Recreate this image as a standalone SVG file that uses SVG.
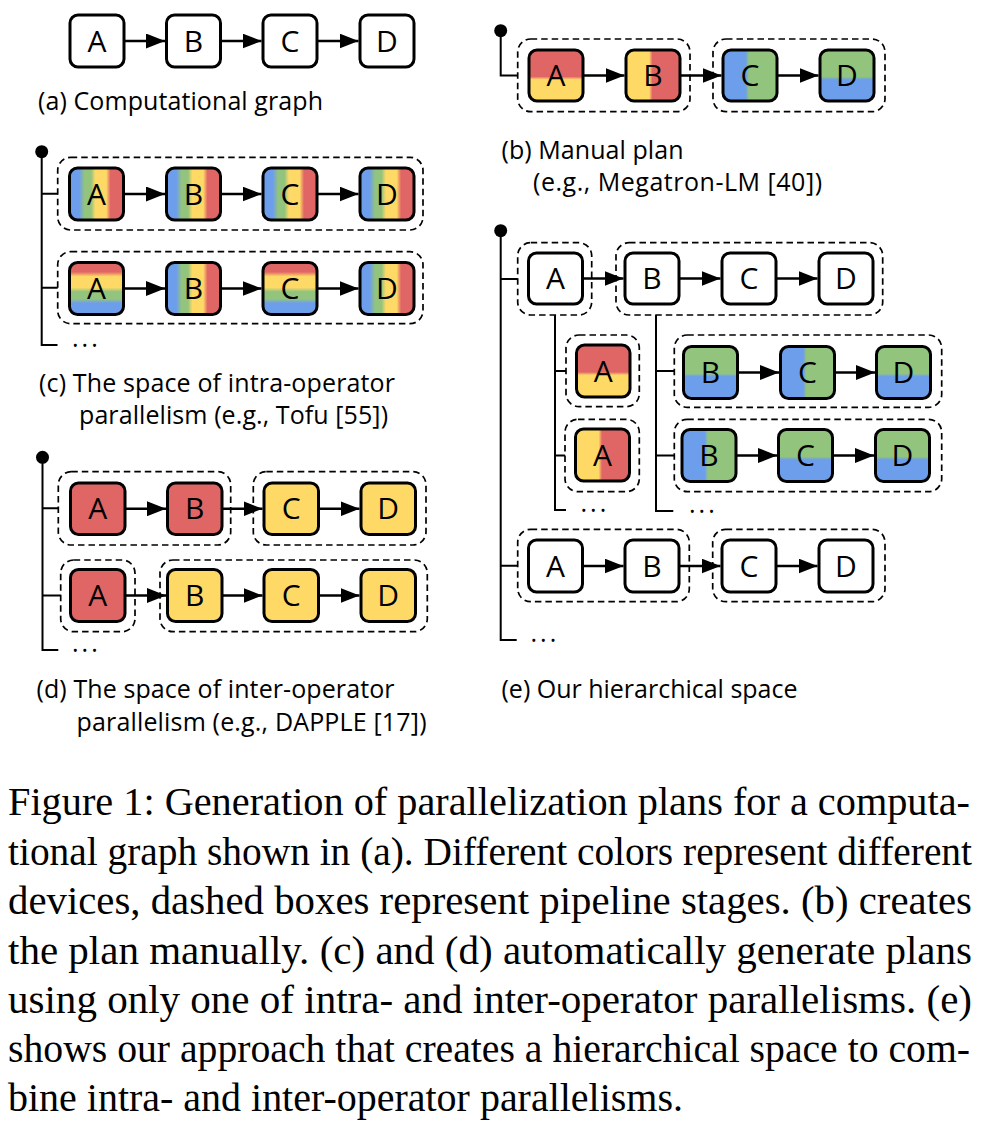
<svg xmlns="http://www.w3.org/2000/svg" width="993" height="1124" viewBox="0 0 993 1124">
<style>
.n{stroke:#000;stroke-width:3}
.w{fill:#fff}
.r{fill:#e06666}
.y{fill:#ffd966}
.d{fill:none;stroke:#000;stroke-width:1.7;stroke-dasharray:6.5 4}
.t{font-family:"Open Sans",sans-serif;font-size:30px;text-anchor:middle;fill:#000}
.cap{font-family:"Open Sans",sans-serif;font-size:25px;fill:#000}
.dots{font-family:"Open Sans",sans-serif;font-size:25px;letter-spacing:3px;fill:#000}
.fig{font-family:"Liberation Serif","Times New Roman",serif;font-size:40px;fill:#000}
.tree{fill:none;stroke:#000;stroke-width:2}
.arr{stroke:#000;stroke-width:2.5;fill:none;marker-end:url(#ah)}
</style>
<defs>
<marker id="ah" markerUnits="userSpaceOnUse" markerWidth="21" markerHeight="15" refX="19" refY="7.5" orient="auto">
<path d="M0,0 L19,7.5 L0,15 z" fill="#000"/>
</marker>
<linearGradient id="vs" x1="0" y1="0" x2="1" y2="0">
<stop offset="0.18" stop-color="#6d9eeb"/><stop offset="0.28" stop-color="#93c47d"/><stop offset="0.40" stop-color="#93c47d"/><stop offset="0.48" stop-color="#ffd966"/><stop offset="0.68" stop-color="#ffd966"/><stop offset="0.76" stop-color="#e06666"/>
</linearGradient>
<linearGradient id="hb" x1="0" y1="0" x2="0" y2="1">
<stop offset="0.18" stop-color="#e06666"/><stop offset="0.27" stop-color="#ffd966"/><stop offset="0.48" stop-color="#ffd966"/><stop offset="0.56" stop-color="#93c47d"/><stop offset="0.70" stop-color="#93c47d"/><stop offset="0.78" stop-color="#6d9eeb"/>
</linearGradient>
<linearGradient id="ry_v" x1="0" y1="0" x2="0" y2="1">
<stop offset="0.52" stop-color="#e06666"/><stop offset="0.58" stop-color="#ffd966"/>
</linearGradient>
<linearGradient id="yr_h" x1="0" y1="0" x2="1" y2="0">
<stop offset="0.43" stop-color="#ffd966"/><stop offset="0.49" stop-color="#e06666"/>
</linearGradient>
<linearGradient id="bg_h" x1="0" y1="0" x2="1" y2="0">
<stop offset="0.42" stop-color="#6d9eeb"/><stop offset="0.48" stop-color="#93c47d"/>
</linearGradient>
<linearGradient id="gb_v" x1="0" y1="0" x2="0" y2="1">
<stop offset="0.52" stop-color="#93c47d"/><stop offset="0.58" stop-color="#6d9eeb"/>
</linearGradient>
</defs>

<!-- stage boxes (dashed) -->
<g id="stages">
<rect class="d" x="517.7" y="39" width="172.3" height="72.7" rx="13"/>
<rect class="d" x="713" y="39" width="172" height="72.7" rx="13"/>
<rect class="d" x="57.7" y="157.3" width="365.3" height="72.7" rx="13"/>
<rect class="d" x="57.7" y="251.7" width="365.3" height="72" rx="13"/>
<rect class="d" x="58.3" y="471.7" width="172.4" height="73.3" rx="13"/>
<rect class="d" x="253.3" y="471.7" width="172.7" height="73.3" rx="13"/>
<rect class="d" x="60.7" y="560" width="74.3" height="71.7" rx="13"/>
<rect class="d" x="160" y="560" width="267.3" height="71.7" rx="13"/>
<rect class="d" x="517.7" y="242.7" width="74" height="72.3" rx="13"/>
<rect class="d" x="616" y="242.7" width="266.7" height="72.3" rx="13"/>
<rect class="d" x="566" y="335" width="73.3" height="71.7" rx="13"/>
<rect class="d" x="565" y="419.3" width="74.3" height="72.4" rx="13"/>
<rect class="d" x="674.3" y="335" width="267.4" height="72.3" rx="13"/>
<rect class="d" x="674.3" y="419.3" width="267.4" height="72.4" rx="13"/>
<rect class="d" x="517.7" y="529.3" width="171.6" height="72.4" rx="13"/>
<rect class="d" x="712.7" y="529.3" width="172.3" height="72.4" rx="13"/>
</g>

<!-- connectors -->
<g id="connectors">
<circle cx="500.7" cy="30.7" r="6.5" fill="#000"/>
<path class="tree" d="M500.7 30.7 V75.5 H517.7"/>
<circle cx="41.7" cy="151.7" r="6.5" fill="#000"/>
<path class="tree" d="M41.7 151.7 V345 H57.5 M41.7 193.7 H57.7 M41.7 287.7 H57.7"/>
<circle cx="42.5" cy="457.3" r="6.5" fill="#000"/>
<path class="tree" d="M42.5 457.3 V650 H58.3 M42.5 508.3 H58.3 M42.5 595.5 H60.7"/>
<circle cx="500.7" cy="230.7" r="6.5" fill="#000"/>
<path class="tree" d="M500.7 230.7 V640 H516.7 M500.7 279 H517.7 M500.7 565.7 H517.7"/>
<path class="tree" d="M555 315 V510 H566 M555 371 H566 M555 455.5 H565"/>
<path class="tree" d="M656 315 V511 H673.3 M656 371 H674.3 M656 455.5 H674.3"/>
<!-- (a) -->
<line class="arr" x1="124" y1="41" x2="165" y2="41"/>
<line class="arr" x1="220.5" y1="41" x2="261.5" y2="41"/>
<line class="arr" x1="317" y1="41" x2="358.5" y2="41"/>
<!-- (b) -->
<line class="arr" x1="583" y1="75.5" x2="624.5" y2="75.5"/>
<line class="arr" x1="680" y1="75.5" x2="721.5" y2="75.5"/>
<line class="arr" x1="777" y1="75.5" x2="818.5" y2="75.5"/>
<!-- (c) -->
<line class="arr" x1="123.5" y1="194" x2="165" y2="194"/>
<line class="arr" x1="220.5" y1="194" x2="261.5" y2="194"/>
<line class="arr" x1="317" y1="194" x2="358.5" y2="194"/>
<line class="arr" x1="123.5" y1="288.5" x2="165" y2="288.5"/>
<line class="arr" x1="220.5" y1="288.5" x2="261.5" y2="288.5"/>
<line class="arr" x1="317" y1="288.5" x2="358.5" y2="288.5"/>
<!-- (d) -->
<line class="arr" x1="125" y1="508.75" x2="166" y2="508.75"/>
<line class="arr" x1="222" y1="508.75" x2="262.5" y2="508.75"/>
<line class="arr" x1="318.5" y1="508.75" x2="359.5" y2="508.75"/>
<line class="arr" x1="125" y1="595.5" x2="166" y2="595.5"/>
<line class="arr" x1="222" y1="595.5" x2="262.5" y2="595.5"/>
<line class="arr" x1="318.5" y1="595.5" x2="359.5" y2="595.5"/>
<!-- (e) -->
<line class="arr" x1="582.5" y1="278.5" x2="623.5" y2="278.5"/>
<line class="arr" x1="679" y1="278.5" x2="720.5" y2="278.5"/>
<line class="arr" x1="776" y1="278.5" x2="817.5" y2="278.5"/>
<line class="arr" x1="737.5" y1="372.5" x2="779" y2="372.5"/>
<line class="arr" x1="834.5" y1="372.5" x2="875" y2="372.5"/>
<line class="arr" x1="736" y1="455.5" x2="777" y2="455.5"/>
<line class="arr" x1="832.5" y1="455.5" x2="874" y2="455.5"/>
<line class="arr" x1="582.5" y1="566" x2="623.5" y2="566"/>
<line class="arr" x1="679" y1="566" x2="720.5" y2="566"/>
<line class="arr" x1="776" y1="566" x2="817.5" y2="566"/>
</g>

<!-- (a) nodes -->
<g id="a-A"><rect class="n w" x="70" y="15" width="54" height="52" rx="8"/><text class="t" x="97" y="51.5">A</text></g>
<g id="a-B"><rect class="n w" x="166.5" y="15" width="54" height="52" rx="8"/><text class="t" x="193.5" y="51.5">B</text></g>
<g id="a-C"><rect class="n w" x="263" y="15" width="54" height="52" rx="8"/><text class="t" x="290" y="51.5">C</text></g>
<g id="a-D"><rect class="n w" x="360" y="15" width="54" height="52" rx="8"/><text class="t" x="387" y="51.5">D</text></g>

<!-- (b) nodes -->
<g id="b-A"><rect class="n" fill="url(#ry_v)" x="529" y="50" width="54" height="51" rx="8"/><text class="t" x="556" y="86">A</text></g>
<g id="b-B"><rect class="n" fill="url(#yr_h)" x="626" y="50" width="54" height="51" rx="8"/><text class="t" x="653" y="86">B</text></g>
<g id="b-C"><rect class="n" fill="url(#bg_h)" x="723" y="50" width="54" height="51" rx="8"/><text class="t" x="750" y="86">C</text></g>
<g id="b-D"><rect class="n" fill="url(#gb_v)" x="820" y="50" width="54" height="51" rx="8"/><text class="t" x="847" y="86">D</text></g>

<!-- (c) nodes -->
<g id="c1-A"><rect class="n" fill="url(#vs)" x="69.5" y="168" width="54" height="52" rx="8"/><text class="t" x="96.5" y="204.5">A</text></g>
<g id="c1-B"><rect class="n" fill="url(#vs)" x="166.5" y="168" width="54" height="52" rx="8"/><text class="t" x="193.5" y="204.5">B</text></g>
<g id="c1-C"><rect class="n" fill="url(#vs)" x="263" y="168" width="54" height="52" rx="8"/><text class="t" x="290" y="204.5">C</text></g>
<g id="c1-D"><rect class="n" fill="url(#vs)" x="360" y="168" width="54" height="52" rx="8"/><text class="t" x="387" y="204.5">D</text></g>
<g id="c2-A"><rect class="n" fill="url(#hb)" x="69.5" y="262.5" width="54" height="52" rx="8"/><text class="t" x="96.5" y="299">A</text></g>
<g id="c2-B"><rect class="n" fill="url(#vs)" x="166.5" y="262.5" width="54" height="52" rx="8"/><text class="t" x="193.5" y="299">B</text></g>
<g id="c2-C"><rect class="n" fill="url(#hb)" x="263" y="262.5" width="54" height="52" rx="8"/><text class="t" x="290" y="299">C</text></g>
<g id="c2-D"><rect class="n" fill="url(#vs)" x="360" y="262.5" width="54" height="52" rx="8"/><text class="t" x="387" y="299">D</text></g>

<!-- (d) nodes -->
<g id="d1-A"><rect class="n r" x="70.5" y="483" width="54.5" height="51.5" rx="8"/><text class="t" x="97.75" y="519">A</text></g>
<g id="d1-B"><rect class="n r" x="167.5" y="483" width="54.5" height="51.5" rx="8"/><text class="t" x="194.75" y="519">B</text></g>
<g id="d1-C"><rect class="n y" x="264" y="483" width="54.5" height="51.5" rx="8"/><text class="t" x="291.25" y="519">C</text></g>
<g id="d1-D"><rect class="n y" x="361" y="483" width="54.5" height="51.5" rx="8"/><text class="t" x="388.25" y="519">D</text></g>
<g id="d2-A"><rect class="n r" x="70.5" y="569.5" width="54.5" height="52" rx="8"/><text class="t" x="97.75" y="606">A</text></g>
<g id="d2-B"><rect class="n y" x="167.5" y="569.5" width="54.5" height="52" rx="8"/><text class="t" x="194.75" y="606">B</text></g>
<g id="d2-C"><rect class="n y" x="264" y="569.5" width="54.5" height="52" rx="8"/><text class="t" x="291.25" y="606">C</text></g>
<g id="d2-D"><rect class="n y" x="361" y="569.5" width="54.5" height="52" rx="8"/><text class="t" x="388.25" y="606">D</text></g>

<!-- (e) nodes -->
<g id="e1-A"><rect class="n w" x="528.5" y="253" width="54" height="51" rx="8"/><text class="t" x="555.5" y="289">A</text></g>
<g id="e1-B"><rect class="n w" x="625" y="253" width="54" height="51" rx="8"/><text class="t" x="652" y="289">B</text></g>
<g id="e1-C"><rect class="n w" x="722" y="253" width="54" height="51" rx="8"/><text class="t" x="749" y="289">C</text></g>
<g id="e1-D"><rect class="n w" x="819" y="253" width="54" height="51" rx="8"/><text class="t" x="846" y="289">D</text></g>
<g id="eA1"><rect class="n" fill="url(#ry_v)" x="576.5" y="345" width="53.5" height="52" rx="8"/><text class="t" x="603.25" y="381.5">A</text></g>
<g id="eA2"><rect class="n" fill="url(#yr_h)" x="575.5" y="429" width="54" height="52" rx="8"/><text class="t" x="602.5" y="465.5">A</text></g>
<g id="eB1-B"><rect class="n" fill="url(#gb_v)" x="683.5" y="346.5" width="54" height="52" rx="8"/><text class="t" x="710.5" y="383">B</text></g>
<g id="eB1-C"><rect class="n" fill="url(#bg_h)" x="780.5" y="346.5" width="54" height="52" rx="8"/><text class="t" x="807.5" y="383">C</text></g>
<g id="eB1-D"><rect class="n" fill="url(#gb_v)" x="876.5" y="346.5" width="54" height="52" rx="8"/><text class="t" x="903.5" y="383">D</text></g>
<g id="eB2-B"><rect class="n" fill="url(#bg_h)" x="682" y="429.5" width="54" height="52" rx="8"/><text class="t" x="709" y="466">B</text></g>
<g id="eB2-C"><rect class="n" fill="url(#gb_v)" x="778.5" y="429.5" width="54" height="52" rx="8"/><text class="t" x="805.5" y="466">C</text></g>
<g id="eB2-D"><rect class="n" fill="url(#gb_v)" x="875.5" y="429.5" width="54" height="52" rx="8"/><text class="t" x="902.5" y="466">D</text></g>
<g id="e3-A"><rect class="n w" x="528.5" y="540" width="54" height="52" rx="8"/><text class="t" x="555.5" y="576.5">A</text></g>
<g id="e3-B"><rect class="n w" x="625" y="540" width="54" height="52" rx="8"/><text class="t" x="652" y="576.5">B</text></g>
<g id="e3-C"><rect class="n w" x="722" y="540" width="54" height="52" rx="8"/><text class="t" x="749" y="576.5">C</text></g>
<g id="e3-D"><rect class="n w" x="819" y="540" width="54" height="52" rx="8"/><text class="t" x="846" y="576.5">D</text></g>

<!-- ellipses -->
<g id="ellipses">
<text class="dots" x="72" y="347">...</text>
<text class="dots" x="72" y="652">...</text>
<text class="dots" x="530.5" y="642">...</text>
<text class="dots" x="580.5" y="512">...</text>
<text class="dots" x="689" y="513">...</text>
</g>

<!-- sub captions -->
<g id="captions">
<text class="cap" x="38" y="110" textLength="285">(a) Computational graph</text>
<text class="cap" x="501.5" y="158.5" textLength="182">(b) Manual plan</text>
<text class="cap" x="533" y="191" textLength="289">(e.g., Megatron-LM [40])</text>
<text class="cap" x="39" y="392" textLength="356">(c) The space of intra-operator</text>
<text class="cap" x="79" y="424" textLength="309">parallelism (e.g., Tofu [55])</text>
<text class="cap" x="36.5" y="698" textLength="358">(d) The space of inter-operator</text>
<text class="cap" x="76.5" y="731" textLength="350">parallelism (e.g., DAPPLE [17])</text>
<text class="cap" x="501.5" y="698" textLength="296">(e) Our hierarchical space</text>
</g>

<!-- figure caption -->
<g id="figure-caption">
<text class="fig" x="8" y="815" textLength="962" lengthAdjust="spacingAndGlyphs">Figure 1: Generation of parallelization plans for a computa-</text>
<text class="fig" x="8" y="865" textLength="964" lengthAdjust="spacingAndGlyphs">tional graph shown in (a). Different colors represent different</text>
<text class="fig" x="8" y="914" textLength="964" lengthAdjust="spacingAndGlyphs">devices, dashed boxes represent pipeline stages. (b) creates</text>
<text class="fig" x="8" y="963.5" textLength="964" lengthAdjust="spacingAndGlyphs">the plan manually. (c) and (d) automatically generate plans</text>
<text class="fig" x="8" y="1013" textLength="964" lengthAdjust="spacingAndGlyphs">using only one of intra- and inter-operator parallelisms. (e)</text>
<text class="fig" x="8" y="1062" textLength="962" lengthAdjust="spacingAndGlyphs">shows our approach that creates a hierarchical space to com-</text>
<text class="fig" x="8" y="1111" textLength="675" lengthAdjust="spacingAndGlyphs">bine intra- and inter-operator parallelisms.</text>
</g>
</svg>
